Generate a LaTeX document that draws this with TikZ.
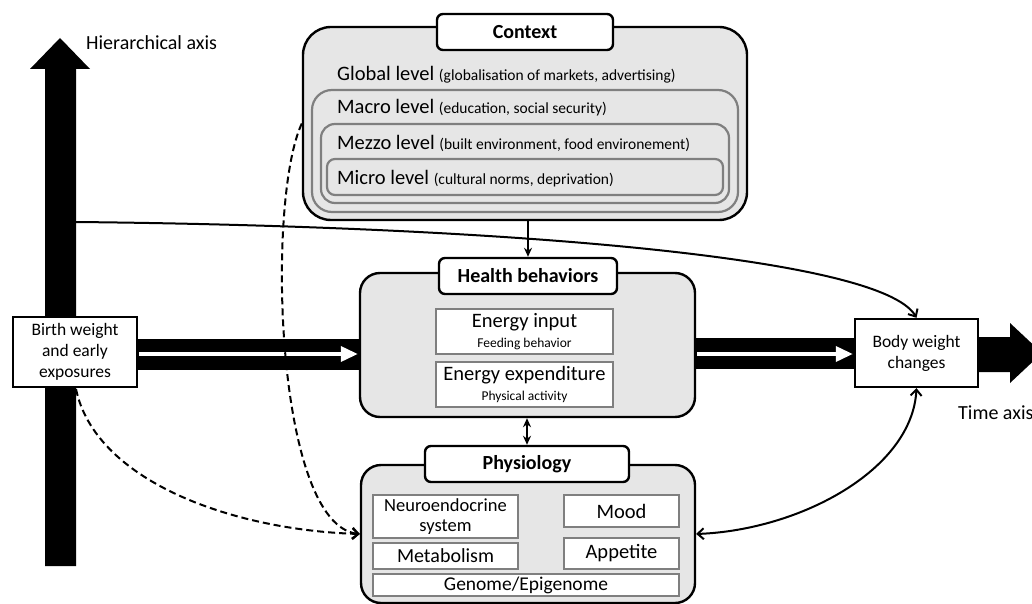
\documentclass[tikz,border=0pt]{standalone}
\usepackage{fontspec}
\setmainfont{Carlito}
\usetikzlibrary{arrows.meta}
\definecolor{boxgray}{HTML}{E6E6E6}
\definecolor{linegray}{HTML}{7F7F7F}
\newcommand{\fsz}[2]{\fontsize{#1}{#2}\selectfont}
\begin{document}
\begin{tikzpicture}[x=1pt,y=-1pt,
  plainbox/.style={draw, line width=2.4pt, fill=white, inner sep=0pt, align=center, font=\fsz{17.5}{21}},
  bigbox/.style={draw, line width=2.4pt, fill=boxgray, rounded corners=20pt, inner sep=0pt},
  titlebox/.style={draw, line width=2.4pt, fill=white, rounded corners=6pt, inner sep=0pt, font=\bfseries\fsz{20}{24}},
  innerbox/.style={draw=linegray, line width=1.2pt, fill=white, inner sep=0pt, align=center, font=\fsz{19}{21}},
  levelbox/.style={draw=linegray, line width=2.2pt, fill=boxgray, inner sep=0pt},
  leveltext/.style={anchor=west, inner sep=0pt, font=\fsz{20.5}{24}},
  conn/.style={line width=2pt},
  barbtip/.tip={Straight Barb[length=6pt,width=11pt,line width=2pt]},
  barb/.style={-barbtip},
  stealthtip/.tip={Stealth[length=9pt,width=8pt]},
  whitearrow/.style={white, line width=3.5pt, -{Triangle[length=17pt,width=15pt]}}
]
\useasboundingbox (0,0) rectangle (1032,604);
\clip (0,0) rectangle (1032,604);

% hierarchical axis
\fill (45,566) -- (45,69) -- (30,69) -- (60,38) -- (90,69) -- (76,69) -- (76,566) -- cycle;
\node[anchor=west, inner sep=0pt, font=\fsz{20}{24}] (hax) at (86,43) {Hierarchical axis};

% time axis
\fill (978,337) -- (1010,337) -- (1010,323) -- (1042,353) -- (1010,383) -- (1010,372) -- (978,372) -- cycle;
\node[anchor=west, inner sep=0pt, font=\fsz{20}{24}] (tax) at (958,413) {Time axis};

% thick bars
\fill (137,339) rectangle (361,370);
\fill (694,338) rectangle (856,369);

% Context
\node[bigbox, rounded corners=28pt, minimum width=444pt, minimum height=193pt] (ctx) at (525,123.5) {};
\node[levelbox, rounded corners=20pt, minimum width=426pt, minimum height=122pt] (macro) at (525,151) {};
\node[levelbox, rounded corners=14pt, minimum width=408pt, minimum height=79pt] (mezzo) at (525,163.5) {};
\node[levelbox, rounded corners=8pt, minimum width=396pt, minimum height=36pt] (micro) at (525,177) {};
\node[titlebox, minimum width=176pt, minimum height=36pt] (ctxt) at (525,32) {Context};
\node[leveltext] (glob) at (337,75) {Global level {\fsz{15.5}{18}(globalisation of markets, advertising)}};
\node[leveltext] (macrot) at (337,108) {Macro level {\fsz{15.5}{18}(education, social security)}};
\node[leveltext] (mezzot) at (337,143) {Mezzo level {\fsz{15.5}{18}(built environment, food environement)}};
\node[leveltext] (microt) at (337,179) {Micro level {\fsz{15.5}{18}(cultural norms, deprivation)}};

% Health behaviors
\node[bigbox, minimum width=335pt, minimum height=144pt] (health) at (527.5,345) {};
\node[titlebox, minimum width=178pt, minimum height=36pt] (healtht) at (528,276) {Health behaviors};
\node[innerbox, minimum width=177pt, minimum height=45pt, font=\fsz{20.5}{22}] (ein) at (524.5,331.5) {Energy input\\[-2pt]{\fsz{13.5}{15}Feeding behavior}};
\node[innerbox, minimum width=177pt, minimum height=45pt, font=\fsz{20.5}{22}] (eex) at (524.5,384.5) {Energy expenditure\\[-2pt]{\fsz{13.5}{15}Physical activity}};

% Physiology
\node[bigbox, minimum width=334pt, minimum height=138pt] (phys) at (528,534) {};
\node[titlebox, minimum width=204pt, minimum height=36pt] (physt) at (527,464) {Physiology};
\node[innerbox, minimum width=145pt, minimum height=43pt, font=\fsz{18.5}{20}] (neuro) at (445.5,516.5) {Neuroendocrine\\system};
\node[innerbox, minimum width=145pt, minimum height=26pt, font=\fsz{20}{22}] (metab) at (445.5,556) {Metabolism};
\node[innerbox, minimum width=115pt, minimum height=32pt, font=\fsz{20.5}{22}] (mood) at (621.5,511) {Mood};
\node[innerbox, minimum width=115pt, minimum height=31pt, font=\fsz{20.5}{22}] (appet) at (621.5,553.5) {Appetite};
\node[innerbox, minimum width=306pt, minimum height=22pt, font=\fsz{19.5}{21}] (genome) at (526,585) {Genome/Epigenome};

% Birth weight and Body weight
\node[plainbox, minimum width=124pt, minimum height=70pt] (birth) at (75,352) {Birth weight\\and early\\exposures};
\node[plainbox, minimum width=123pt, minimum height=68pt] (body) at (916.5,353) {Body weight\\changes};

% white arrows inside the bars
\coordinate (yb1) at (0,354);
\coordinate (yb2) at (0,354);
\draw[whitearrow] ([xshift=1pt]birth.east |- yb1) -- ([xshift=-1pt]health.west |- yb1);
\draw[whitearrow] ([xshift=1pt]health.east |- yb2) -- ([xshift=-1pt]body.west |- yb2);

% connectors
\coordinate (axA) at (76,222);
\coordinate (axB) at (76,389);
\draw[conn, barb] (axA) .. controls (480,226) and (880,255) .. (body.north);
\draw[conn, dash pattern=on 7pt off 4pt, barb] (ctx.west) .. controls (266,200) and (275,525) .. (phys.west);
\draw[conn, dash pattern=on 7pt off 4pt, barb] (axB) .. controls (95,480) and (230,530) .. (phys.west);
\draw[conn, barbtip-barbtip] (body.south) .. controls (912,470) and (800,530) .. (phys.east);
\draw[conn, -stealthtip] (ctx.south -| healtht.north) -- (healtht.north);
\draw[conn, stealthtip-stealthtip] (health.south -| physt.north) -- (physt.north);
\end{tikzpicture}
\end{document}
